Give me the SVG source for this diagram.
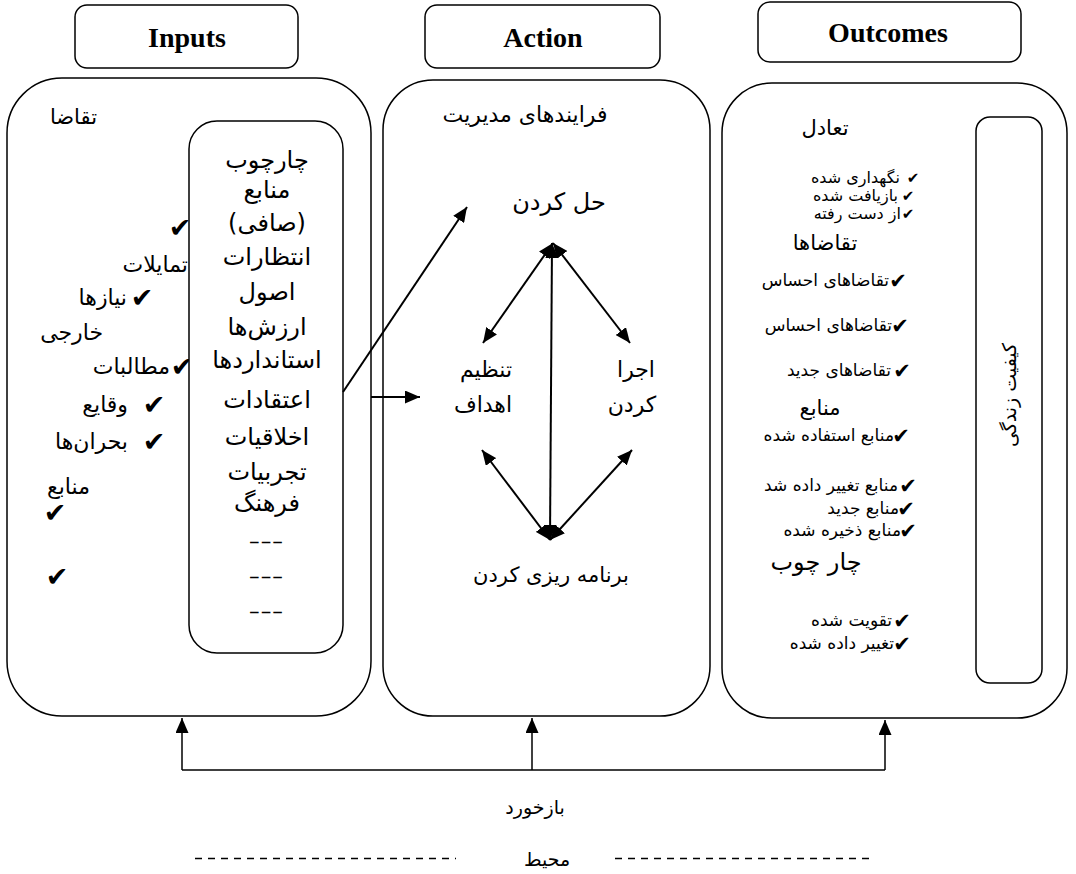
<svg xmlns="http://www.w3.org/2000/svg" width="1076" height="874" viewBox="0 0 1076 874">
<defs>
<marker id="ah" viewBox="0 0 10 10" refX="10" refY="5" markerUnits="userSpaceOnUse" markerWidth="15" markerHeight="13" orient="auto-start-reverse" preserveAspectRatio="none"><path d="M0,0 L10,5 L0,10 z" fill="#000"/></marker>
</defs>
<style>
.box{fill:#fff;stroke:#000;stroke-width:1.5}
.hdr{font-family:"Liberation Serif",serif;font-weight:bold;font-size:28px;text-anchor:middle}
.fa{font-family:"DejaVu Sans",sans-serif;fill:#000}
.m{text-anchor:middle}
.e{text-anchor:end}
.s16{font-size:16px}
.s17{font-size:17px}
.s19{font-size:19px}
.s21{font-size:21px}
.s22{font-size:22px}
.s24{font-size:24px}
.ck{font-family:"DejaVu Sans",sans-serif;text-anchor:middle}
.ckL{font-size:27px}
.ckS{font-size:21px}
.ckT{font-size:15px}
.ln{stroke:#000;stroke-width:2;fill:none}
.fb{stroke:#000;stroke-width:1.5;fill:none}
.dash{stroke:#000;stroke-width:1.3;stroke-dasharray:7 6}
</style>
<rect width="1076" height="874" fill="#fff"/>

<g id="hdr-inputs"><rect class="box" x="75" y="5" width="223" height="63" rx="12"/><text class="hdr" x="187" y="47">Inputs</text></g>
<g id="hdr-action"><rect class="box" x="425" y="5" width="235" height="63" rx="12"/><text class="hdr" x="543" y="47">Action</text></g>
<g id="hdr-outcomes"><rect class="box" x="758" y="2" width="263" height="60" rx="12"/><text class="hdr" x="888" y="42">Outcomes</text></g>

<g id="panel-inputs">
<rect class="box" x="7" y="78" width="364" height="638" rx="55"/>
<text class="fa s21 e" x="97" y="124">تقاضا</text>
<text class="ck ckL" x="180" y="237">✔</text>
<text class="fa s22 e" x="188" y="272">تمایلات</text>
<text class="ck ckL" x="142" y="307">✔</text>
<text class="fa s22 e" x="127" y="305">نیازها</text>
<text class="fa s22 e" x="103" y="340">خارجی</text>
<text class="ck ckL" x="182" y="376">✔</text>
<text class="fa s22 e" x="170" y="374">مطالبات</text>
<text class="ck ckL" x="154" y="414">✔</text>
<text class="fa s22 e" x="128" y="412">وقایع</text>
<text class="ck ckL" x="154" y="451">✔</text>
<text class="fa s22 e" x="128" y="449">بحران‌ها</text>
<text class="fa s22 e" x="90" y="494">منابع</text>
<text class="ck ckL" x="55" y="522">✔</text>
<text class="ck ckL" x="57" y="586">✔</text>
</g>

<g id="frame-box">
<rect class="box" x="189" y="121" width="154" height="532" rx="28"/>
<g class="fa s24 m">
<text x="267" y="168">چارچوب</text>
<text x="267" y="198">منابع</text>
<text x="267" y="231">(صافی)</text>
<text x="267" y="265">انتظارات</text>
<text x="267" y="300">اصول</text>
<text x="267" y="335">ارزش‌ها</text>
<text x="267" y="368">استانداردها</text>
<text x="267" y="408">اعتقادات</text>
<text x="267" y="445">اخلاقیات</text>
<text x="267" y="480">تجربیات</text>
<text x="267" y="511">فرهنگ</text>
</g>
<g font-family="Liberation Sans, sans-serif" font-size="18" text-anchor="middle">
<text x="266" y="548" textLength="35" lengthAdjust="spacingAndGlyphs">---</text>
<text x="266" y="583" textLength="35" lengthAdjust="spacingAndGlyphs">---</text>
<text x="266" y="618" textLength="35" lengthAdjust="spacingAndGlyphs">---</text>
</g>
</g>

<g id="panel-action">
<rect class="box" x="383" y="80" width="327" height="636" rx="50"/>
<text class="fa s22 m" x="525" y="122">فرایندهای مدیریت</text>
<text class="fa s24 m" x="559" y="210">حل کردن</text>
<text class="fa s22 m" x="486" y="377">تنظیم</text>
<text class="fa s22 m" x="483" y="412">اهداف</text>
<text class="fa s22 m" x="636" y="377">اجرا</text>
<text class="fa s22 m" x="632" y="412">کردن</text>
<text class="fa s21 m" x="551" y="582">برنامه ریزی کردن</text>
</g>

<g id="panel-outcomes">
<rect class="box" x="722" y="83" width="345" height="635" rx="50"/>
<text class="fa s21 m" x="825" y="135">تعادل</text>
<g class="fa s16 e">
<text x="900" y="183">نگهداری شده</text>
<text x="898" y="201">بازیافت شده</text>
<text x="901" y="219">از دست رفته</text>
</g>
<g class="fa s17 e">
<text x="889" y="286">تقاضاهای احساس</text>
<text x="892" y="331">تقاضاهای احساس</text>
<text x="891" y="376">تقاضاهای جدید</text>
<text x="894" y="441">منابع استفاده شده</text>
<text x="898" y="491">منابع تغییر داده شد</text>
<text x="899" y="514">منابع جدید</text>
<text x="901" y="536">منابع ذخیره شده</text>
<text x="892" y="626">تقویت شده</text>
<text x="894" y="649">تغییر داده شده</text>
</g>
<g class="ck ckT">
<text x="913" y="183">✔</text>
<text x="908" y="201">✔</text>
<text x="908" y="219">✔</text>
</g>
<g class="ck ckS">
<text x="898" y="288">✔</text>
<text x="900" y="333">✔</text>
<text x="902" y="378">✔</text>
<text x="901" y="443">✔</text>
<text x="908" y="493">✔</text>
<text x="906" y="516">✔</text>
<text x="908" y="538">✔</text>
<text x="902" y="628">✔</text>
<text x="902" y="651">✔</text>
</g>
<text class="fa s21 m" x="825" y="250">تقاضاها</text>
<text class="fa s21 m" x="820" y="415">منابع</text>
<text class="fa s24 m" x="816" y="570">چار چوب</text>
</g>

<g id="quality-box">
<rect class="box" x="976" y="117" width="66" height="566" rx="14"/>
<text class="fa s19 m" transform="translate(1010,395) rotate(-90)" y="6">کیفیت زندگی</text>
</g>

<g id="connectors">
<line class="ln" x1="343" y1="392" x2="467" y2="207" marker-end="url(#ah)"/>
<line class="ln" x1="371" y1="397" x2="420" y2="397" marker-end="url(#ah)"/>
<line class="ln" x1="552" y1="243" x2="550" y2="540" marker-start="url(#ah)" marker-end="url(#ah)"/>
<line class="ln" x1="553" y1="243" x2="483" y2="343" marker-start="url(#ah)" marker-end="url(#ah)"/>
<line class="ln" x1="553" y1="243" x2="630" y2="343" marker-start="url(#ah)" marker-end="url(#ah)"/>
<line class="ln" x1="550" y1="540" x2="482" y2="450" marker-start="url(#ah)" marker-end="url(#ah)"/>
<line class="ln" x1="550" y1="540" x2="632" y2="450" marker-start="url(#ah)" marker-end="url(#ah)"/>
<path class="fb" d="M182,770 H885"/>
<line class="fb" x1="182" y1="770" x2="182" y2="718" marker-end="url(#ah)"/>
<line class="fb" x1="532" y1="770" x2="532" y2="718" marker-end="url(#ah)"/>
<line class="fb" x1="885" y1="770" x2="885" y2="720" marker-end="url(#ah)"/>
</g>

<g id="feedback-label"><text class="fa s19 m" x="535" y="814">بازخورد</text></g>
<g id="environment">
<line class="dash" x1="195" y1="858.5" x2="456" y2="858.5"/>
<line class="dash" x1="615" y1="858.5" x2="874" y2="858.5"/>
<text class="fa s19 m" x="547" y="866">محیط</text>
</g>
</svg>
